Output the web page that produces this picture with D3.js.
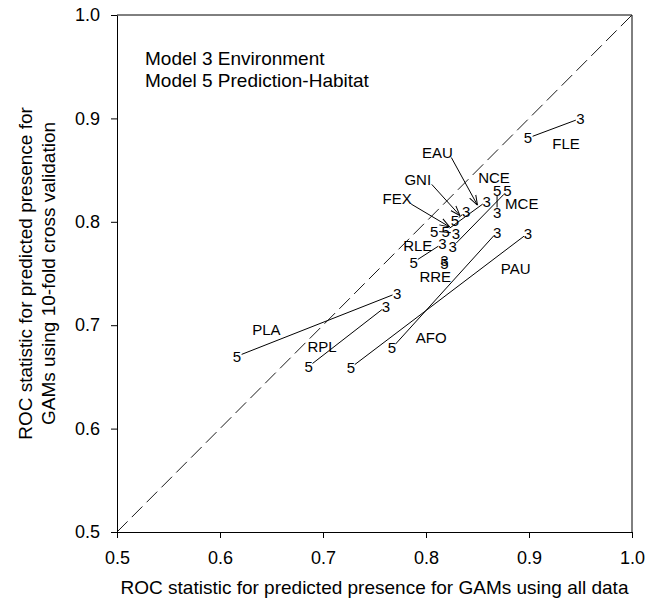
<!DOCTYPE html>
<html>
<head>
<meta charset="utf-8">
<script src="https://cdn.jsdelivr.net/npm/d3@7"></script>
<style>
  body { margin: 0; background: #fff; }
  svg text { font-family: Arial, "Liberation Sans", sans-serif; fill: #000; }
</style>
</head>
<body>
<div id="chart"></div>
<script>
// Species codes and ROC values
const species = ["FLE", "EAU", "GNI", "FEX", "NCE", "MCE", "RLE", "RRE", "PAU", "AFO", "PLA", "RPL"];
// Model 3 (Environment): all data (x) vs 10-fold CV (y)
const model3X = [0.950, 0.859, 0.839, 0.829, 0.869, 0.826, 0.816, 0.818, 0.899, 0.869, 0.772, 0.761];
const model3Y = [0.900, 0.820, 0.810, 0.789, 0.809, 0.776, 0.779, 0.762, 0.789, 0.790, 0.731, 0.718];
// Model 5 (Prediction-Habitat)
const model5X = [0.899, 0.819, 0.828, 0.808, 0.869, 0.879, 0.788, 0.818, 0.727, 0.767, 0.6165, 0.686];
const model5Y = [0.881, 0.791, 0.801, 0.791, 0.830, 0.830, 0.761, 0.760, 0.659, 0.678, 0.670, 0.660];
// Label anchors (data units) and arrow targets for the crowded labels
const labelX = [0.936, 0.811, 0.792, 0.772, 0.866, 0.893, 0.792, 0.809, 0.887, 0.805, 0.645, 0.699];
const labelY = [0.876, 0.867, 0.841, 0.822, 0.843, 0.818, 0.777, 0.747, 0.755, 0.688, 0.696, 0.679];
const arrowX = [null, 0.850, 0.833, 0.823, null, null, null, null, null, null, null, null];
const arrowY = [null, 0.816, 0.806, 0.795, null, null, null, null, null, null, null, null];

const xTicks = [0.5, 0.6, 0.7, 0.8, 0.9, 1.0];
const yTicks = [0.5, 0.6, 0.7, 0.8, 0.9, 1.0];
const legendLines = ["Model 3 Environment", "Model 5 Prediction-Habitat"];

const margin = { top: 15, right: 29, bottom: 68, left: 117 },
  width = 661 - margin.left - margin.right,
  height = 600 - margin.top - margin.bottom;

const data = species.map((s, i) => ({
  name: s,
  x3: model3X[i], y3: model3Y[i],
  x5: model5X[i], y5: model5Y[i],
  lx: labelX[i], ly: labelY[i],
  ax: arrowX[i], ay: arrowY[i]
}));

const x = d3.scaleLinear().domain([0.5, 1.0]).range([0, width]);
const y = d3.scaleLinear().domain([0.5, 1.0]).range([height, 0]);

const svg = d3.select("#chart")
  .append("svg")
  .attr("width", 661)
  .attr("height", 600);

const defs = svg.append("defs");
defs.append("marker")
  .attr("id", "arrow")
  .attr("viewBox", "0 0 10 10")
  .attr("refX", 10).attr("refY", 5)
  .attr("markerWidth", 10).attr("markerHeight", 10)
  .attr("markerUnits", "userSpaceOnUse")
  .attr("orient", "auto")
  .append("path")
  .attr("d", "M0,1.5 L10,5 L0,8.5")
  .attr("fill", "none")
  .attr("stroke", "#000")
  .attr("stroke-width", 1);

const g = svg.append("g").attr("transform", `translate(${margin.left},${margin.top})`);

// Frame (top and right)
g.append("path")
  .attr("d", `M0,0 H${width} V${height}`)
  .attr("fill", "none")
  .attr("stroke", "#000");

// Axes
const xAxis = g.append("g")
  .attr("transform", `translate(0,${height})`)
  .call(d3.axisBottom(x).tickValues(xTicks).tickFormat(d3.format(".1f")).tickSizeOuter(0).tickSizeInner(6).tickPadding(13));
const yAxis = g.append("g")
  .call(d3.axisLeft(y).tickValues(yTicks).tickFormat(d3.format(".1f")).tickSizeOuter(0).tickSizeInner(6).tickPadding(11));
[xAxis, yAxis].forEach((a) => {
  a.selectAll("text").style("font-size", "18px").attr("fill", "#000");
  a.selectAll("line, path").attr("stroke", "#000");
});

// 1:1 line
g.append("line")
  .attr("x1", x(0.5)).attr("y1", y(0.5))
  .attr("x2", x(1.0)).attr("y2", y(1.0))
  .attr("stroke", "#000")
  .attr("stroke-width", 0.9)
  .attr("stroke-dasharray", "15,6");

// Connecting lines, trimmed so they stop at the digit markers
const trim = 5;
g.append("g")
  .selectAll("line")
  .data(data.filter((d) => Math.hypot(x(d.x3) - x(d.x5), y(d.y3) - y(d.y5)) > 2 * trim))
  .enter()
  .append("line")
  .each(function (d) {
    const x1 = x(d.x5), y1 = y(d.y5), x2 = x(d.x3), y2 = y(d.y3);
    const len = Math.hypot(x2 - x1, y2 - y1);
    const ux = (x2 - x1) / len, uy = (y2 - y1) / len;
    d3.select(this)
      .attr("x1", x1 + ux * trim).attr("y1", y1 + uy * trim)
      .attr("x2", x2 - ux * trim).attr("y2", y2 - uy * trim);
  })
  .attr("stroke", "#000")
  .attr("stroke-width", 1);

// Digit markers: "3" for Model 3, "5" for Model 5
const marks = g.append("g").style("font-size", "15px").attr("text-anchor", "middle");
marks.selectAll(".m3")
  .data(data)
  .enter()
  .append("text")
  .attr("class", "m3")
  .attr("x", (d) => x(d.x3))
  .attr("y", (d) => y(d.y3))
  .attr("dy", "0.36em")
  .text("3");
marks.selectAll(".m5")
  .data(data)
  .enter()
  .append("text")
  .attr("class", "m5")
  .attr("x", (d) => x(d.x5))
  .attr("y", (d) => y(d.y5))
  .attr("dy", "0.36em")
  .text("5");

// Species labels
g.append("g")
  .style("font-size", "15px")
  .attr("text-anchor", "middle")
  .selectAll("text")
  .data(data)
  .enter()
  .append("text")
  .attr("x", (d) => x(d.lx))
  .attr("y", (d) => y(d.ly))
  .attr("dy", "0.36em")
  .text((d) => d.name);

// Arrows from crowded labels to their pairs
g.append("g")
  .selectAll("line")
  .data(data.filter((d) => d.ax !== null))
  .enter()
  .append("line")
  .attr("x1", (d) => x(d.lx) + 14)
  .attr("y1", (d) => y(d.ly) + 5)
  .attr("x2", (d) => x(d.ax))
  .attr("y2", (d) => y(d.ay))
  .attr("stroke", "#000")
  .attr("stroke-width", 1)
  .attr("marker-end", "url(#arrow)");

// Legend text
g.append("g")
  .style("font-size", "19px")
  .selectAll("text")
  .data(legendLines)
  .enter()
  .append("text")
  .attr("x", 28)
  .attr("y", (d, i) => 50 + i * 22)
  .text((d) => d);

// Axis titles
svg.append("text")
  .attr("x", margin.left + width / 2)
  .attr("y", 594)
  .attr("text-anchor", "middle")
  .style("font-size", "19px")
  .text("ROC statistic for predicted presence for GAMs using all data");

const yTitle = svg.append("text")
  .attr("transform", `translate(0,${margin.top + height / 2}) rotate(-90)`)
  .attr("text-anchor", "middle")
  .style("font-size", "19px");
yTitle.append("tspan").attr("x", 0).attr("y", 32).text("ROC statistic for predicted presence for");
yTitle.append("tspan").attr("x", 0).attr("y", 55).text("GAMs using 10-fold cross validation");
</script>
</body>
</html>
